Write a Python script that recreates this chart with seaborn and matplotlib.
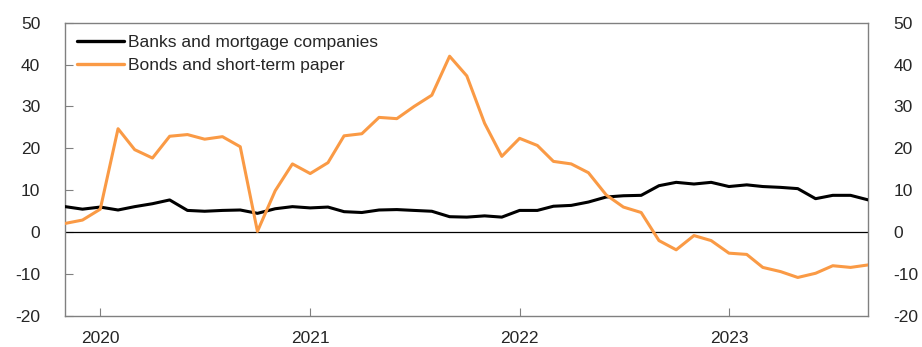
import numpy as np
import pandas as pd
import seaborn as sns
import matplotlib.pyplot as plt
import matplotlib.dates as mdates

# monthly data, Nov 2019 - Sep 2023
months = pd.date_range('2019-11-01', '2023-09-01', freq='MS')
banks = [6.1, 5.5, 6.0, 5.3, 6.1, 6.8, 7.7, 5.2, 5.0, 5.2, 5.3, 4.5, 5.6, 6.1,
         5.8, 6.0, 4.9, 4.7, 5.3, 5.4, 5.2, 5.0, 3.7, 3.6, 3.9, 3.6,
         5.2, 5.2, 6.2, 6.4, 7.2, 8.4, 8.7, 8.8, 11.1, 11.9, 11.5, 11.9,
         10.9, 11.3, 10.9, 10.7, 10.4, 8.0, 8.8, 8.8, 7.7]
bonds = [2.1, 2.9, 5.5, 24.7, 19.7, 17.7, 22.9, 23.3, 22.2, 22.8, 20.4, 0.2, 9.9, 16.3,
         14.0, 16.6, 23.0, 23.5, 27.4, 27.1, 30.0, 32.7, 42.0, 37.3, 26.0, 18.1,
         22.4, 20.7, 16.9, 16.3, 14.2, 8.9, 6.0, 4.7, -2.0, -4.2, -0.8, -2.0,
         -5.0, -5.3, -8.4, -9.4, -10.8, -9.8, -8.0, -8.4, -7.8]
series_names = ['Banks and mortgage companies', 'Bonds and short-term paper']
yticks = [-20, -10, 0, 10, 20, 30, 40, 50]

df = pd.DataFrame({'date': list(months) * 2,
                   'value': banks + bonds,
                   'series': [series_names[0]] * len(months) + [series_names[1]] * len(months)})

sns.set_theme(style='white')
plt.rcParams['font.family'] = ['Liberation Sans', 'DejaVu Sans']
plt.rcParams['axes.unicode_minus'] = False

fig = plt.figure(figsize=(9.22, 3.47), dpi=100)
ax = fig.add_axes([0.0708, 0.0893, 0.8710, 0.8453])

ax.axhline(0, color='black', lw=0.9, zorder=1)
sns.lineplot(data=df, x='date', y='value', hue='series', ax=ax,
             palette=['black', '#FA9A45'], linewidth=2.2, zorder=3)

ax.set_xlim(months[0], months[-1])
ax.set_ylim(-20, 50)
ax.set_yticks(yticks)
ax.set_xlabel('')
ax.set_ylabel('')
ax.xaxis.set_major_locator(mdates.YearLocator())
ax.xaxis.set_major_formatter(mdates.DateFormatter('%Y'))

for s in ax.spines.values():
    s.set_color('#808080')
    s.set_linewidth(1.0)

ax.tick_params(axis='y', direction='in', length=6, width=0.8, color='#808080',
               labelsize=12.5, pad=18, right=True, left=True)
ax.tick_params(axis='x', direction='in', length=6, width=0.8, color='#808080',
               labelsize=12.5, pad=11, bottom=True)

ax2 = ax.twinx()
ax2.set_ylim(-20, 50)
ax2.set_yticks(yticks)
ax2.tick_params(axis='y', direction='in', length=0, labelsize=12.5, pad=18)
for s in ax2.spines.values():
    s.set_visible(False)

leg = ax.legend(loc='upper left', frameon=False, fontsize=12.5, handlelength=2.7,
                handletextpad=0.2, labelspacing=0.45, borderaxespad=0.3,
                bbox_to_anchor=(0.0, 1.0))
for line in leg.get_lines():
    line.set_linewidth(2.4)

fig.savefig('out.png', dpi=100)
